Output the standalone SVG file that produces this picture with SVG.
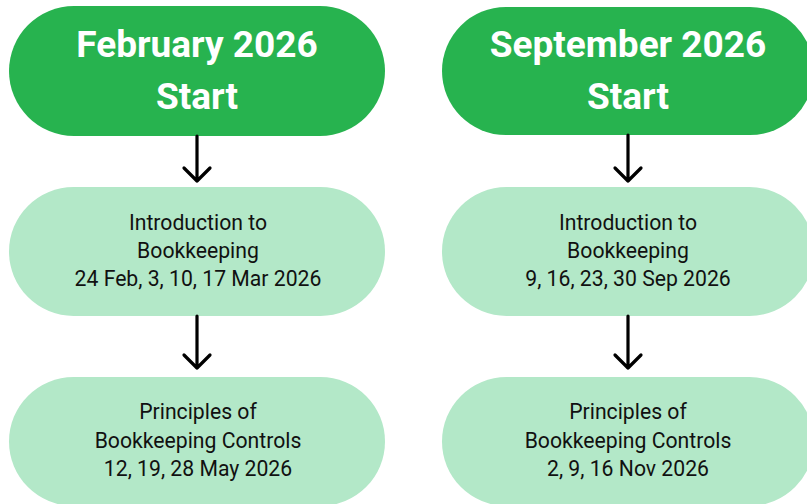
<svg xmlns="http://www.w3.org/2000/svg" width="807" height="504" viewBox="0 0 807 504">
<style>
.head{fill:#27b34f}
.body{fill:#b3e8c8}
.t1{font-family:Roboto,"Liberation Sans",sans-serif;font-weight:bold;font-size:37px;fill:#fff;text-anchor:middle}
.t2{font-family:Roboto,"Liberation Sans",sans-serif;font-size:21.2px;fill:#111;text-anchor:middle}
.ar{fill:none;stroke:#000;stroke-width:3.2;stroke-linecap:round;stroke-linejoin:round}
</style>
<rect width="807" height="504" fill="#fff"/>
<g id="feb-start"><rect class="head" x="9" y="6" width="376" height="130" rx="65"/>
<text class="t1" x="197" y="57">February 2026</text><text class="t1" x="197" y="109">Start</text></g>
<g id="sep-start"><rect class="head" x="442" y="7" width="372" height="128" rx="64"/>
<text class="t1" x="628" y="57">September 2026</text><text class="t1" x="628" y="109">Start</text></g>
<g id="feb-intro"><rect class="body" x="9" y="187" width="376" height="129" rx="64.5"/>
<text class="t2" x="198" y="230">Introduction to</text><text class="t2" x="198" y="258">Bookkeeping</text><text class="t2" x="198" y="286">24 Feb, 3, 10, 17 Mar 2026</text></g>
<g id="sep-intro"><rect class="body" x="442" y="187" width="372" height="129" rx="64.5"/>
<text class="t2" x="628" y="230">Introduction to</text><text class="t2" x="628" y="258">Bookkeeping</text><text class="t2" x="628" y="286">9, 16, 23, 30 Sep 2026</text></g>
<g id="feb-principles"><rect class="body" x="9" y="377" width="376" height="129" rx="64.5"/>
<text class="t2" x="198" y="419">Principles of</text><text class="t2" x="198" y="448">Bookkeeping Controls</text><text class="t2" x="198" y="476">12, 19, 28 May 2026</text></g>
<g id="sep-principles"><rect class="body" x="442" y="377" width="372" height="129" rx="64.5"/>
<text class="t2" x="628" y="419">Principles of</text><text class="t2" x="628" y="448">Bookkeeping Controls</text><text class="t2" x="628" y="476">2, 9, 16 Nov 2026</text></g>
<g id="connectors">
<path class="ar" d="M197 136V181M184 168L197 181L210 168"/>
<path class="ar" d="M197 316V368M184 355L197 368L210 355"/>
<path class="ar" d="M628 135V181M615 168L628 181L641 168"/>
<path class="ar" d="M628 316V368M615 355L628 368L641 355"/>
</g>
</svg>
